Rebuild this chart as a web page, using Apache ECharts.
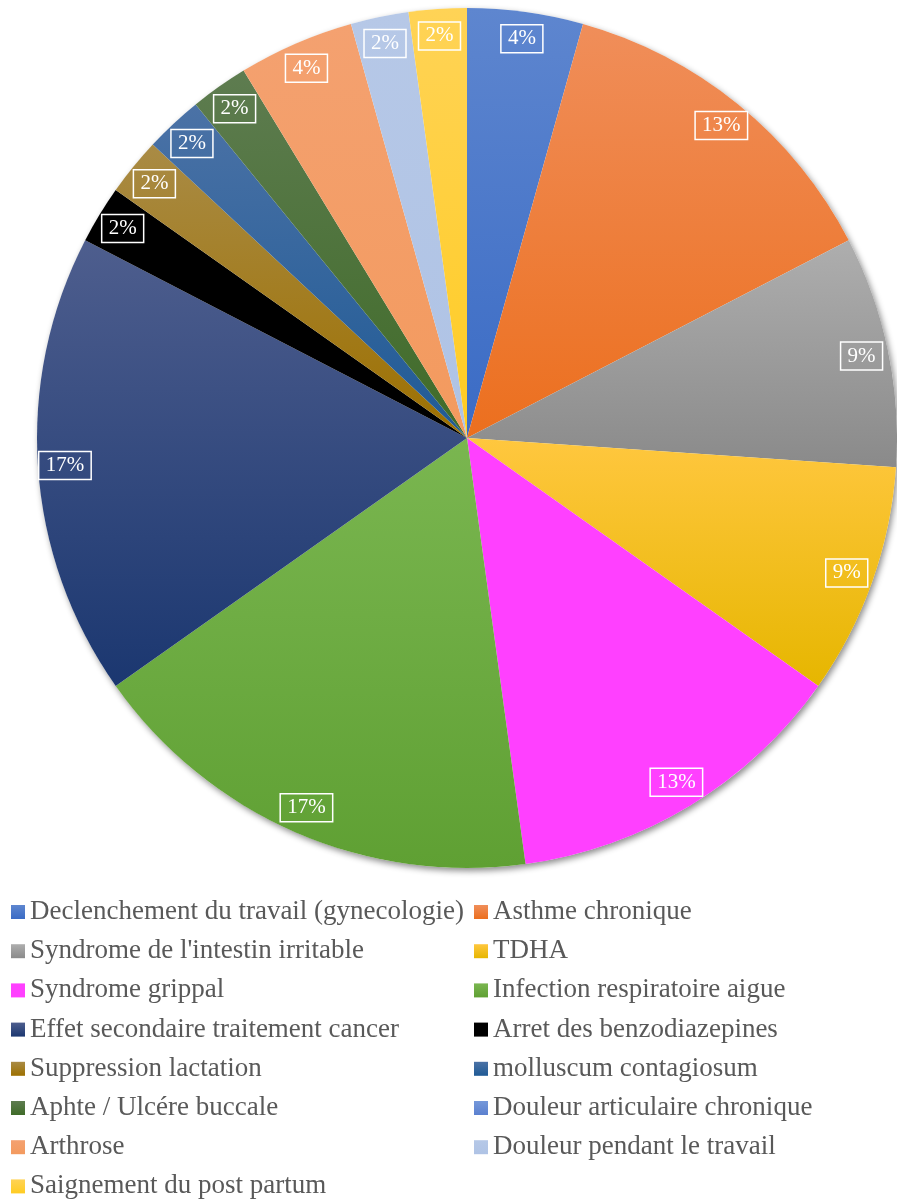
<!DOCTYPE html>
<html>
<head>
<meta charset="utf-8">
<script src="https://cdn.jsdelivr.net/npm/echarts@6/dist/echarts.min.js"></script>
<style>
html,body{margin:0;padding:0;background:#fff;}
#chart{width:897px;height:1203px;}
</style>
</head>
<body>
<div id="chart"></div>
<script>
const categories = [
  "Declenchement du travail (gynecologie)",
  "Asthme chronique",
  "Syndrome de l'intestin irritable",
  "TDHA",
  "Syndrome grippal",
  "Infection respiratoire aigue",
  "Effet secondaire traitement cancer",
  "Arret des benzodiazepines",
  "Suppression lactation",
  "molluscum contagiosum",
  "Aphte / Ulcére buccale",
  "Douleur articulaire chronique",
  "Arthrose",
  "Douleur pendant le travail",
  "Saignement du post partum"
];
const values = [2, 6, 4, 4, 6, 8, 8, 1, 1, 1, 1, 0, 2, 1, 1];

const topColors = ["#5E86CF","#F08E5A","#AEAEAE","#FFC73F","#FF40FF","#7AB650","#4E5E8E","#000000","#A98B45","#4B72A6","#5E7C50","#7598DA","#F4A170","#B6C8E7","#FFD356"];
const bottomColors = ["#3A6BC5","#EC6F1E","#8A8A8A","#E6B600","#FF40FF","#5FA033","#1B3770","#000000","#9D7000","#1F5A95","#3F6B28","#5B80CF","#F39A5E","#AFC3E5","#FFCC22"];

const total = values.reduce((a, b) => a + b, 0);

const pieData = categories.map((name, i) => ({
  name: name,
  value: values[i],
  itemStyle: {
    color: {
      type: 'linear', x: 0, y: 0, x2: 0, y2: 1,
      colorStops: [{offset: 0, color: topColors[i]}, {offset: 1, color: bottomColors[i]}]
    }
  }
}));

const labelData = categories.map((name, i) => ({
  name: name,
  value: values[i],
  label: {show: values[i] > 0}
}));

const CX = 467, CY = 438, R = 430;
const legendFont = {fontFamily: 'Liberation Serif', fontSize: 27, color: '#595959', lineHeight: 27};

const chart = echarts.init(document.getElementById('chart'), null, {renderer: 'canvas'});
chart.setOption({
  animation: false,
  backgroundColor: '#ffffff',
  legend: [
    {
      orient: 'vertical', left: 11, top: 898.5, height: 320, padding: 0, itemWidth: 14, itemHeight: 14, itemGap: 12.2,
      icon: 'rect', selectedMode: false, textStyle: legendFont,
      data: categories.filter((c, i) => i % 2 === 0)
    },
    {
      orient: 'vertical', left: 474, top: 898.5, height: 320, padding: 0, itemWidth: 14, itemHeight: 14, itemGap: 12.2,
      icon: 'rect', selectedMode: false, textStyle: legendFont,
      data: categories.filter((c, i) => i % 2 === 1)
    }
  ],
  series: [
    {
      type: 'pie', name: 'main', center: [CX, CY], radius: [0, R], startAngle: 90, clockwise: true,
      silent: true, z: 2,
      label: {show: false}, labelLine: {show: false},
      emphasis: {disabled: true},
      itemStyle: {borderWidth: 0},
      data: pieData
    },
    {
      type: 'pie', name: 'shadow', center: [CX, CY], radius: [0, R], silent: true, z: 1,
      label: {show: false}, labelLine: {show: false}, emphasis: {disabled: true},
      itemStyle: {color: '#ffffff', shadowBlur: 6, shadowOffsetX: 2, shadowOffsetY: 3, shadowColor: 'rgba(0,0,0,0.45)'},
      data: [{name: '', value: 1}]
    },
    {
      type: 'pie', name: 'labels', center: [CX, CY], radius: [370, R], startAngle: 90, clockwise: true,
      silent: true, z: 3, avoidLabelOverlap: false,
      itemStyle: {color: 'rgba(0,0,0,0)', borderWidth: 0},
      emphasis: {disabled: true},
      labelLine: {show: false},
      label: {
        show: true, position: 'inside',
        formatter: p => Math.round(p.value / total * 100) + '%',
        fontFamily: 'Liberation Serif', fontSize: 21, color: '#ffffff',
        borderColor: '#ffffff', borderWidth: 1.5, padding: [4, 7, 3, 7]
      },
      data: labelData
    }
  ]
});
</script>
</body>
</html>
